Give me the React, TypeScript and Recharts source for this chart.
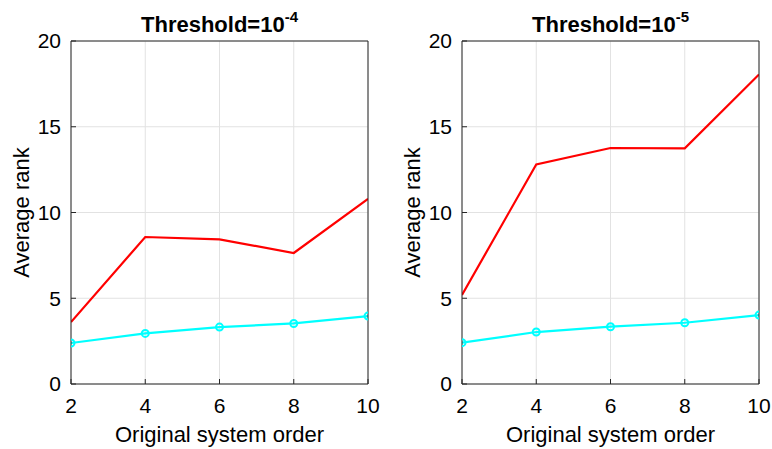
import React from 'react';
import { LineChart, Line, XAxis, YAxis, CartesianGrid } from 'recharts';

const orders = [2, 4, 6, 8, 10];
const yTicks = [0, 5, 10, 15, 20];
const redT4 = [3.61, 8.57, 8.43, 7.64, 10.8];
const cyanT4 = [2.39, 2.95, 3.32, 3.53, 3.96];
const redT5 = [5.19, 12.8, 13.76, 13.74, 18.05];
const cyanT5 = [2.41, 3.03, 3.34, 3.57, 4.02];
const titles = ['Threshold=10', 'Threshold=10'];
const exponents = ['-4', '-5'];
const xLabel = 'Original system order';
const yLabel = 'Average rank';

const FONT = '"Liberation Sans", Arial, Helvetica, sans-serif';
const AX = '#262626';

function Panel(props: any) {
  const { red, cyan, title, exp, offsetLeft, ml, mr } = props;
  const data = orders.map((x, i) => ({ x, red: red[i], cyan: cyan[i] }));
  const plotLeft = ml + 40;
  const plotRight = 386 - mr - 1;
  const center = (plotLeft + plotRight) / 2;
  return (
    <div style={{ position: 'absolute', left: offsetLeft, top: 0, width: 386, height: 449 }}>
      <LineChart width={386} height={449} data={data} margin={{ top: 40, right: mr, bottom: 35, left: ml }}>
        <CartesianGrid stroke="#e2e2e2" strokeWidth={1} />
        <XAxis
          dataKey="x"
          type="number"
          domain={[2, 10]}
          ticks={orders}
          interval={0}
          allowDataOverflow
          height={30}
          tickSize={-5}
          tickMargin={19}
          axisLine={{ stroke: AX, strokeWidth: 1 }}
          tickLine={{ stroke: AX, strokeWidth: 1 }}
          tick={{ fontSize: 21, fill: '#000', fontFamily: FONT }}
          label={{
            content: (p: any) => {
              const vb = p.viewBox;
              return (
                <text x={vb.x + vb.width / 2} y={vb.y + vb.height + 28} textAnchor="middle" fontSize={22} fontFamily={FONT} fill="#000">
                  {xLabel}
                </text>
              );
            },
          }}
        />
        <XAxis
          xAxisId="t"
          orientation="top"
          dataKey="x"
          type="number"
          domain={[2, 10]}
          ticks={orders}
          interval={0}
          allowDataOverflow
          height={1}
          tickSize={-5}
          tick={false}
          axisLine={{ stroke: AX, strokeWidth: 1 }}
          tickLine={{ stroke: AX, strokeWidth: 1 }}
        />
        <YAxis
          type="number"
          domain={[0, 20]}
          ticks={yTicks}
          interval={0}
          allowDataOverflow
          width={40}
          tickSize={-5}
          tickMargin={15}
          axisLine={{ stroke: AX, strokeWidth: 1 }}
          tickLine={{ stroke: AX, strokeWidth: 1 }}
          tick={{ fontSize: 21, fill: '#000', fontFamily: FONT }}
          label={{
            content: (p: any) => {
              const vb = p.viewBox;
              const cx = vb.x - 2;
              const cy = vb.y + vb.height / 2;
              return (
                <text x={cx} y={cy} transform={`rotate(-90, ${cx}, ${cy})`} textAnchor="middle" fontSize={22} fontFamily={FONT} fill="#000">
                  {yLabel}
                </text>
              );
            },
          }}
        />
        <YAxis
          yAxisId="r"
          orientation="right"
          type="number"
          domain={[0, 20]}
          ticks={yTicks}
          interval={0}
          allowDataOverflow
          width={1}
          tickSize={-5}
          tick={false}
          axisLine={{ stroke: AX, strokeWidth: 1 }}
          tickLine={{ stroke: AX, strokeWidth: 1 }}
        />
        <Line type="linear" dataKey="red" stroke="#ff0000" strokeWidth={2.2} dot={false} isAnimationActive={false} />
        <Line
          type="linear"
          dataKey="cyan"
          stroke="#00ffff"
          strokeWidth={2.2}
          dot={{ r: 3.5, stroke: '#00ffff', strokeWidth: 2, fill: 'none' }}
          isAnimationActive={false}
        />
      </LineChart>
      <div
        style={{
          position: 'absolute',
          left: center,
          top: 14,
          transform: 'translateX(-50%)',
          whiteSpace: 'nowrap',
          fontFamily: FONT,
          fontWeight: 'bold',
          fontSize: 22,
          lineHeight: '22px',
          color: '#000',
        }}
      >
        {title}
        <span style={{ position: 'relative', top: -10, fontSize: 15 }}>{exp}</span>
      </div>
    </div>
  );
}

export default function App() {
  return (
    <div style={{ position: 'absolute', left: 0, top: 0, width: 772, height: 449, background: '#fff' }}>
      <Panel red={redT4} cyan={cyanT4} title={titles[0]} exp={exponents[0]} offsetLeft={0} ml={31} mr={17} />
      <Panel red={redT5} cyan={cyanT5} title={titles[1]} exp={exponents[1]} offsetLeft={386} ml={36} mr={12} />
    </div>
  );
}
